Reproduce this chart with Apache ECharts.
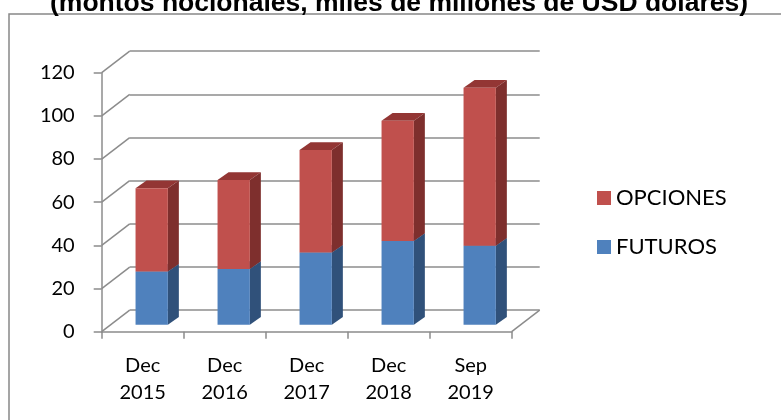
<!DOCTYPE html>
<html>
<head>
<meta charset="utf-8">
<script src="https://cdn.jsdelivr.net/npm/echarts@6/dist/echarts.min.js"></script>
<style>
	html, body { margin: 0; padding: 0; background: #fff; }
	#myChart { width: 781px; height: 420px; }
</style>
</head>
<body>
<div id="myChart"></div>
<script>
const categories = ["Dec\n2015", "Dec\n2016", "Dec\n2017", "Dec\n2018", "Sep\n2019"];
const futuros = [24.6, 25.8, 33.4, 38.8, 36.6];
const opciones = [38.6, 41.3, 47.6, 55.7, 73.2];
const yTicks = [0, 20, 40, 60, 80, 100, 120];

// desplazamientos del efecto 3D (px)
const WALL = [28, -21.5]; // pared del fondo
const FACE = [9, -7]; // cara frontal de las barras
const DEPTH = [11, -7.7]; // grosor de la barra
const GRID_COLOR = "#8c8c8c";
const FONT = "Lato";

const RED = { front: "#C0504D", side: "#7E2F2D", top: "#933634" };
const BLUE = { front: "#4F81BD", side: "#30517A", top: "#3D6694" };

function renderBar(colors) {
	return function (params, api) {
		let i = api.value(0);
		let lo = api.coord([i, api.value(1)]);
		let hi = api.coord([i, api.value(2)]);
		let w = api.size([1, 0])[0] * 0.394;
		let x0 = lo[0] - w / 2 + FACE[0];
		let x1 = x0 + w;
		let yb = lo[1] + FACE[1];
		let yt = hi[1] + FACE[1];
		let dx = DEPTH[0], dy = DEPTH[1];
		return {
			type: "group",
			children: [
				{
					type: "polygon",
					shape: { points: [[x0, yt], [x1, yt], [x1 + dx, yt + dy], [x0 + dx, yt + dy]] },
					style: { fill: colors.top },
				},
				{
					type: "polygon",
					shape: { points: [[x1, yb], [x1 + dx, yb + dy], [x1 + dx, yt + dy], [x1, yt]] },
					style: { fill: colors.side },
				},
				{
					type: "rect",
					shape: { x: x0, y: yt, width: w, height: yb - yt },
					style: { fill: colors.front },
				},
			],
		};
	};
}

// lineas diagonales entre el eje frontal y la pared del fondo
function renderEdge(params, api) {
	let cs = params.coordSys;
	let y = api.coord([0, api.value(0)])[1];
	let x = api.value(1) ? cs.x + cs.width : cs.x;
	return {
		type: "line",
		shape: { x1: x, y1: y, x2: x + WALL[0], y2: y + WALL[1] },
		style: { stroke: GRID_COLOR, lineWidth: 1.5 },
	};
}

let futBars = futuros.map((v, i) => [i, 0, v]);
let opcBars = opciones.map((v, i) => [i, futuros[i], futuros[i] + v]);
let edges = yTicks.map((v) => [v, 0]).concat([[0, 1]]);

var myChart = echarts.init(document.getElementById("myChart"));
myChart.setOption({
	animation: false,
	title: {
		text: "(montos nocionales, miles de millones de USD dolares)",
		left: 394,
		textAlign: "center",
		top: -15,
		textStyle: { fontFamily: "Liberation Sans", fontSize: 26.5, fontWeight: "bold", color: "#000" },
	},
	graphic: [
		{
			type: "rect",
			shape: { x: 9, y: 14, width: 800, height: 430 },
			style: { fill: "none", stroke: "#888", lineWidth: 1.5 },
			z: -1,
		},
	],
	legend: {
		orient: "vertical",
		left: 592,
		top: 182,
		itemWidth: 14,
		itemHeight: 14,
		itemGap: 27,
		icon: "rect",
		data: ["OPCIONES", "FUTUROS"],
		textStyle: { fontFamily: FONT, fontSize: 22, color: "#000" },
	},
	grid: [
		{ left: 101.7, right: 269.3, top: 72.7, bottom: 88.3 },
		{ left: 129.7, right: 241.3, top: 51.2, bottom: 109.8 },
	],
	xAxis: [
		{
			type: "category",
			data: categories,
			gridIndex: 0,
			axisLine: { lineStyle: { color: GRID_COLOR, width: 1.5 } },
			axisTick: { show: true, length: 7, lineStyle: { color: GRID_COLOR, width: 1.5 } },
			axisLabel: { margin: 20, fontFamily: FONT, fontSize: 20, lineHeight: 27, color: "#000" },
		},
		{ type: "category", data: categories, gridIndex: 1, show: false },
	],
	yAxis: [
		{
			type: "value",
			gridIndex: 0,
			min: 0,
			max: 120,
			interval: 20,
			axisLine: { show: true, lineStyle: { color: GRID_COLOR, width: 1.5 } },
			axisTick: { show: true, length: 8, lineStyle: { color: GRID_COLOR, width: 1.5 } },
			axisLabel: { margin: 27, fontFamily: FONT, fontSize: 20, color: "#000" },
			splitLine: { show: false },
		},
		{
			type: "value",
			gridIndex: 1,
			min: 0,
			max: 120,
			interval: 20,
			axisLine: { show: false },
			axisTick: { show: false },
			axisLabel: { show: false },
			splitLine: { show: true, lineStyle: { color: GRID_COLOR, width: 1.5 } },
		},
	],
	series: [
		{
			name: "bordes",
			type: "custom",
			xAxisIndex: 0,
			yAxisIndex: 0,
			encode: { x: 1, y: 0 },
			renderItem: renderEdge,
			data: edges,
			silent: true,
		},
		{
			name: "FUTUROS",
			type: "custom",
			xAxisIndex: 0,
			yAxisIndex: 0,
			encode: { x: 0, y: [1, 2] },
			itemStyle: { color: BLUE.front },
			renderItem: renderBar(BLUE),
			data: futBars,
		},
		{
			name: "OPCIONES",
			type: "custom",
			xAxisIndex: 0,
			yAxisIndex: 0,
			encode: { x: 0, y: [1, 2] },
			itemStyle: { color: RED.front },
			renderItem: renderBar(RED),
			data: opcBars,
		},
	],
});
</script>
</body>
</html>
